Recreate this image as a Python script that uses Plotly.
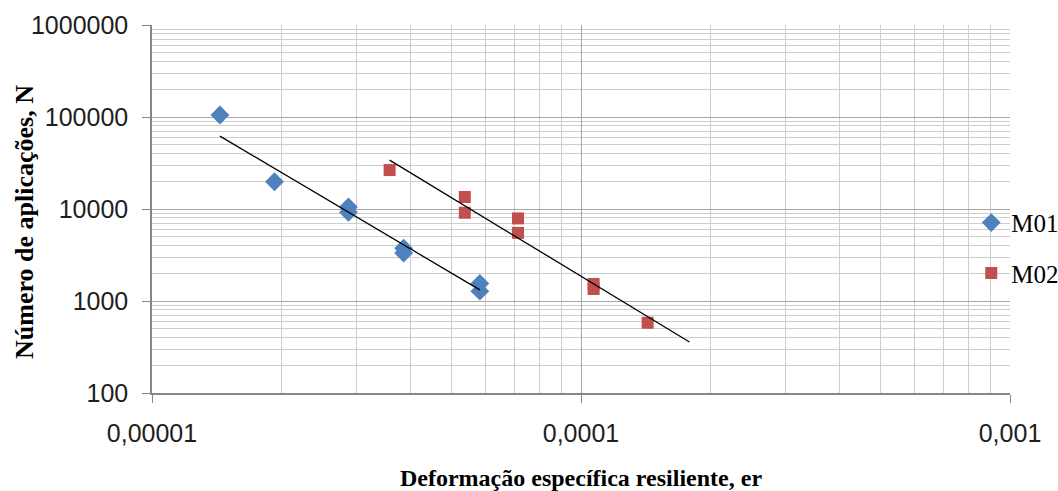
import plotly.graph_objects as go

# ---- data ----
m01_strain = [1.44e-5, 1.93e-5, 2.87e-5, 2.87e-5, 3.86e-5, 3.86e-5, 5.81e-5, 5.81e-5]
m01_cycles = [105000, 19800, 10500, 9200, 3750, 3320, 1550, 1280]

m02_strain = [3.58e-5, 5.36e-5, 5.36e-5, 7.13e-5, 7.13e-5, 1.07e-4, 1.07e-4, 1.43e-4]
m02_cycles = [26500, 13500, 9100, 7900, 5500, 1530, 1350, 580]

m01_trend_strain = [1.44e-5, 5.81e-5]
m01_trend_cycles = [62000, 1320]
m02_trend_strain = [3.58e-5, 1.79e-4]
m02_trend_cycles = [34000, 358]

x_tick_vals = [1e-5, 1e-4, 1e-3]
x_tick_text = ["0,00001", "0,0001", "0,001"]
y_tick_vals = [100, 1000, 10000, 100000, 1000000]
y_tick_text = ["100", "1000", "10000", "100000", "1000000"]

series_names = ["M01", "M02"]
series_colors = ["#4F81BD", "#C0504D"]

fig = go.Figure()
fig.add_trace(go.Scatter(x=m01_strain, y=m01_cycles, mode="markers", name=series_names[0],
                         legendgroup="a",
                         marker=dict(symbol="diamond", size=14.5, color=series_colors[0])))
fig.add_trace(go.Scatter(x=m02_strain, y=m02_cycles, mode="markers", name=series_names[1],
                         legendgroup="b",
                         marker=dict(symbol="square", size=12, color=series_colors[1])))
fig.add_trace(go.Scatter(x=m01_trend_strain, y=m01_trend_cycles, mode="lines", showlegend=False,
                         line=dict(color="black", width=1.3)))
fig.add_trace(go.Scatter(x=m02_trend_strain, y=m02_trend_cycles, mode="lines", showlegend=False,
                         line=dict(color="black", width=1.3)))

major = "#a6a6a6"
minor = "#cdcdcd"
axis_line = "#868686"

fig.update_xaxes(type="log", range=[-5, -3], tickmode="array", tickvals=x_tick_vals,
                 ticktext=x_tick_text, showgrid=True, gridcolor=major, gridwidth=1,
                 showline=True, linecolor=axis_line, linewidth=1.5, automargin=False,
                 ticks="outside", ticklen=8, tickcolor=axis_line, ticklabelstandoff=9,
                 minor=dict(tickmode="linear", dtick="D1", showgrid=True, gridcolor=minor,
                            gridwidth=1, ticks=""),
                 tickfont=dict(family="Liberation Sans, Arial", size=25, color="#1e1e1e"),
                 title=dict(text="<b>Deformação específica resiliente, er</b>", standoff=25,
                            font=dict(family="Liberation Serif, Times New Roman", size=24,
                                      color="black")),
                 zeroline=False)
fig.update_yaxes(type="log", range=[2, 6], tickmode="array", tickvals=y_tick_vals,
                 ticktext=y_tick_text, showgrid=True, gridcolor=major, gridwidth=1,
                 showline=True, linecolor=axis_line, linewidth=1.5, automargin=False,
                 ticks="outside", ticklen=8, tickcolor=axis_line, ticklabelstandoff=9,
                 minor=dict(tickmode="linear", dtick="D1", showgrid=True, gridcolor=minor,
                            gridwidth=1, ticks=""),
                 tickfont=dict(family="Liberation Sans, Arial", size=25, color="#1e1e1e"),
                 zeroline=False)

fig.add_annotation(text="<b>Número de aplicações, N</b>", textangle=-90,
                   xref="paper", yref="paper", x=(24 - 152) / 858, y=(393 - 222) / 368,
                   xanchor="center", yanchor="middle", showarrow=False,
                   font=dict(family="Liberation Serif, Times New Roman", size=26, color="black"))

fig.update_layout(
    width=1058, height=491,
    margin=dict(l=152, r=48, t=25, b=98, autoexpand=False),
    paper_bgcolor="white", plot_bgcolor="white",
    font=dict(family="Liberation Serif, Times New Roman", color="black"),
    legend=dict(xref="container", yref="container", x=0.918, xanchor="left",
                y=0.593, yanchor="top",
                bgcolor="rgba(0,0,0,0)", traceorder="grouped", tracegroupgap=15,
                font=dict(family="Liberation Serif, Times New Roman", size=25, color="black")),
)

fig.write_html("out.html")
